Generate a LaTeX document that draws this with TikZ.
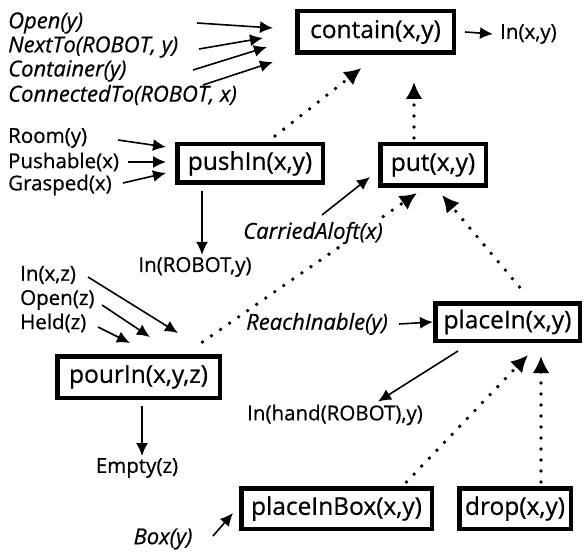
\documentclass[tikz,border=0pt]{standalone}
\usepackage{fontspec}
\setmainfont{Open Sans}[FakeBold=0.6]
\usetikzlibrary{arrows.meta}
\tikzset{
  opbox/.style={draw, line width=4.5pt, inner sep=0pt, font=\fontsize{24.5}{28}\selectfont},
  lab/.style={inner sep=0pt, font=\fontsize{20.5}{24}\selectfont},
  ilab/.style={inner sep=0pt, font=\fontsize{22}{25}\selectfont\itshape},
  sarr/.style={line width=1.6pt, -{Latex[length=13pt,width=12pt]}},
  darr/.style={line width=3.8pt, line cap=round, dash pattern=on 0pt off 11pt, -{Latex[length=17pt,width=17pt]}},
}
\begin{document}
\begin{tikzpicture}[x=1pt,y=-1pt]
\useasboundingbox (0,0) rectangle (584,559);
% operator boxes
\node[opbox, minimum width=156.5pt, minimum height=41.5pt] (contain) at (375.5,32) {contain(x,y)};
\node[opbox, minimum width=145.5pt, minimum height=38.5pt] (pushIn) at (250,163.5) {pushIn(x,y)};
\node[opbox, minimum width=105.5pt, minimum height=41.5pt] (put) at (433,165) {put(x,y)};
\node[opbox, minimum width=162.5pt, minimum height=41.5pt] (pourIn) at (138.5,377) {pourIn(x,y,z)};
\node[opbox, minimum width=144.5pt, minimum height=37.5pt] (placeIn) at (507.5,322) {placeIn(x,y)};
\node[opbox, minimum width=190.5pt, minimum height=40.5pt] (placeInBox) at (336.5,508.5) {placeInBox(x,y)};
\node[opbox, minimum width=111.5pt, minimum height=40.5pt] (drop) at (515,508.5) {drop(x,y)};
% labels
\node[lab, anchor=west] (inxy) at (500,34) {In(x,y)};
\node[ilab, anchor=west] (openy) at (8,23) {Open(y)};
\node[ilab, anchor=west] (nextto) at (8,47) {NextTo(ROBOT, y)};
\node[ilab, anchor=west] (container) at (8,71) {Container(y)};
\node[ilab, anchor=west] (connected) at (8,95) {ConnectedTo(ROBOT, x)};
\node[lab, anchor=west] (room) at (8,138) {Room(y)};
\node[lab, anchor=west] (pushable) at (8,162) {Pushable(x)};
\node[lab, anchor=west] (grasped) at (8,185) {Grasped(x)};
\node[lab] (inrobot) at (195,267) {In(ROBOT,y)};
\node[lab, anchor=west] (inxz) at (20,275) {In(x,z)};
\node[lab, anchor=west] (openz) at (20,300) {Open(z)};
\node[lab, anchor=west] (heldz) at (20,323) {Held(z)};
\node[ilab, anchor=east] (reach) at (388,324) {ReachInable(y)};
\node[lab] (inhand) at (335,415) {In(hand(ROBOT),y)};
\node[lab] (empty) at (137,468) {Empty(z)};
\node[ilab] (boxy) at (163,539) {Box(y)};
% coordinates for free ends
\coordinate (a1s) at (197,23);  \coordinate (a1e) at (273,28);
\coordinate (a2s) at (199,49);  \coordinate (a2e) at (263,38);
\coordinate (a3s) at (193,70);  \coordinate (a3e) at (267,47);
\coordinate (a4s) at (203,85);  \coordinate (a4e) at (273,62);
\coordinate (b1s) at (118,140); \coordinate (b1e) at (166,147);
\coordinate (b2s) at (128,162); \coordinate (b2e) at (166,162);
\coordinate (b3s) at (123,183); \coordinate (b3e) at (166,173);
\coordinate (cs) at (322,215);  \coordinate (ce) at (370,177);
\coordinate (d1s) at (88,277);  \coordinate (d1e) at (178,333);
\coordinate (d2s) at (102,305); \coordinate (d2e) at (150,337);
\coordinate (d3s) at (98,327);  \coordinate (d3e) at (130,343);
\coordinate (bxs) at (213,536); \coordinate (bxe) at (233,513);
% dotted arrows
\draw[darr] ([xshift=25pt,yshift=6pt]pushIn.north) -- ([xshift=-14pt,yshift=-13pt]contain.south);
\draw[darr] ([xshift=-19pt,yshift=4pt]put.north) -- ([xshift=38.5pt,yshift=-27pt]contain.south);
\draw[darr] ([xshift=64pt,yshift=12pt]pourIn.north) -- ([xshift=-16pt,yshift=-5pt]put.south);
\draw[darr] ([xshift=12pt,yshift=14pt]placeIn.north) -- ([xshift=9pt,yshift=-7pt]put.south);
\draw[darr] ([xshift=70pt,yshift=4pt]placeInBox.north) -- ([xshift=20.5pt,yshift=-12pt]placeIn.south);
\draw[darr] ([xshift=26pt,yshift=4pt]drop.north) -- ([xshift=33.5pt,yshift=-13pt]placeIn.south);
% label that hides the dotted line behind it
\node[ilab, fill=white, inner sep=1pt] (carried) at (313,233) {CarriedAloft(x)};
% solid arrows
\draw[sarr] ([xshift=9pt]contain.east) -- ([xshift=-7pt]inxy.west);
\draw[sarr] (a1s) -- (a1e);
\draw[sarr] (a2s) -- (a2e);
\draw[sarr] (a3s) -- (a3e);
\draw[sarr] (a4s) -- (a4e);
\draw[sarr] (b1s) -- (b1e);
\draw[sarr] (b2s) -- (b2e);
\draw[sarr] (b3s) -- (b3e);
\draw[sarr] ([xshift=-48pt,yshift=-6pt]pushIn.south) -- ([xshift=7pt,yshift=2pt]inrobot.north);
\draw[sarr] (cs) -- (ce);
\draw[sarr] (d1s) -- (d1e);
\draw[sarr] (d2s) -- (d2e);
\draw[sarr] (d3s) -- (d3e);
\draw[sarr] ([xshift=3.5pt,yshift=-6pt]pourIn.south) -- ([xshift=5pt,yshift=2pt]empty.north);
\draw[sarr] ([xshift=11pt]reach.east) -- (placeIn.west);
\draw[sarr] ([xshift=-49.5pt,yshift=-8pt]placeIn.south) -- ([xshift=43pt,yshift=3pt]inhand.north);
\draw[sarr] (bxs) -- (bxe);
\end{tikzpicture}
\end{document}
